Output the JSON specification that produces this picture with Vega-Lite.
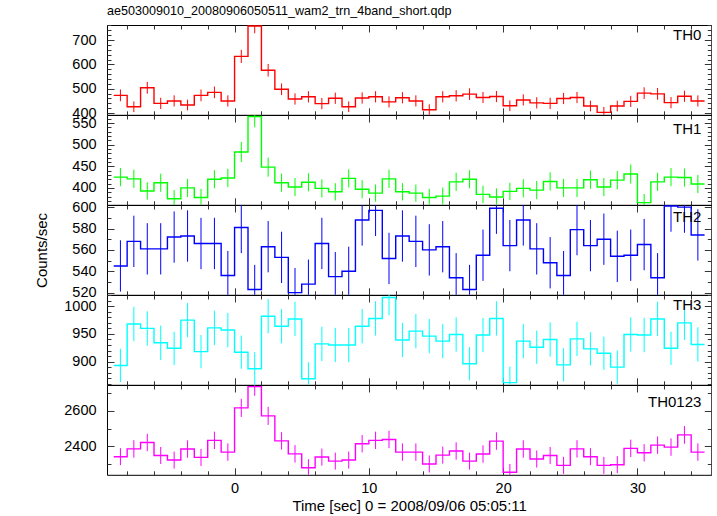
{
"$schema": "https://vega.github.io/schema/vega-lite/v6.json",
"padding": {"left": 34, "top": 5, "right": 0, "bottom": 0},
"title": {"text": "ae503009010_20080906050511_wam2_trn_4band_short.qdp", "anchor": "start", "frame": "group", "font": "Liberation Sans", "fontSize": 12.6, "fontWeight": "normal", "color": "black", "offset": -1},
"spacing": 0,
"bounds": "flush",
"config": {
  "view": {"stroke": "black", "strokeWidth": 1},
  "axis": {"grid": false, "domain": false, "labelFont": "Liberation Sans", "labelFontSize": 14.5, "labelColor": "black", "titleFont": "Liberation Sans", "titleFontSize": 15, "titleFontWeight": "normal", "titleColor": "black", "tickColor": "#333333", "tickWidth": 1, "labelOverlap": false, "labelBound": false, "labelFlush": false, "format": "d"}
},
"datasets": {
"th0": [
{"t0":-9,"t1":-8,"tc":-8.5,"v":473,"lo":449,"hi":497},
{"t0":-8,"t1":-7,"tc":-7.5,"v":426,"lo":404,"hi":448},
{"t0":-7,"t1":-6,"tc":-6.5,"v":504,"lo":480,"hi":528},
{"t0":-6,"t1":-5,"tc":-5.5,"v":440,"lo":417,"hi":463},
{"t0":-5,"t1":-4,"tc":-4.5,"v":450,"lo":427,"hi":473},
{"t0":-4,"t1":-3,"tc":-3.5,"v":433,"lo":411,"hi":455},
{"t0":-3,"t1":-2,"tc":-2.5,"v":473,"lo":449,"hi":497},
{"t0":-2,"t1":-1,"tc":-1.5,"v":485,"lo":461,"hi":509},
{"t0":-1,"t1":0,"tc":-0.5,"v":450,"lo":427,"hi":473},
{"t0":0,"t1":1,"tc":0.5,"v":633,"lo":606,"hi":660},
{"t0":1,"t1":2,"tc":1.5,"v":758,"lo":728,"hi":788},
{"t0":2,"t1":3,"tc":2.5,"v":576,"lo":550,"hi":602},
{"t0":3,"t1":4,"tc":3.5,"v":498,"lo":474,"hi":522},
{"t0":4,"t1":5,"tc":4.5,"v":458,"lo":435,"hi":481},
{"t0":5,"t1":6,"tc":5.5,"v":467,"lo":444,"hi":490},
{"t0":6,"t1":7,"tc":6.5,"v":439,"lo":416,"hi":462},
{"t0":7,"t1":8,"tc":7.5,"v":461,"lo":438,"hi":484},
{"t0":8,"t1":9,"tc":8.5,"v":426,"lo":404,"hi":448},
{"t0":9,"t1":10,"tc":9.5,"v":462,"lo":439,"hi":485},
{"t0":10,"t1":11,"tc":10.5,"v":467,"lo":444,"hi":490},
{"t0":11,"t1":12,"tc":11.5,"v":446,"lo":423,"hi":469},
{"t0":12,"t1":13,"tc":12.5,"v":463,"lo":440,"hi":486},
{"t0":13,"t1":14,"tc":13.5,"v":450,"lo":427,"hi":473},
{"t0":14,"t1":15,"tc":14.5,"v":414,"lo":392,"hi":436},
{"t0":15,"t1":16,"tc":15.5,"v":467,"lo":444,"hi":490},
{"t0":16,"t1":17,"tc":16.5,"v":471,"lo":448,"hi":494},
{"t0":17,"t1":18,"tc":17.5,"v":478,"lo":454,"hi":502},
{"t0":18,"t1":19,"tc":18.5,"v":464,"lo":441,"hi":487},
{"t0":19,"t1":20,"tc":19.5,"v":468,"lo":445,"hi":491},
{"t0":20,"t1":21,"tc":20.5,"v":430,"lo":408,"hi":452},
{"t0":21,"t1":22,"tc":21.5,"v":454,"lo":431,"hi":477},
{"t0":22,"t1":23,"tc":22.5,"v":442,"lo":419,"hi":465},
{"t0":23,"t1":24,"tc":23.5,"v":440,"lo":417,"hi":463},
{"t0":24,"t1":25,"tc":24.5,"v":460,"lo":437,"hi":483},
{"t0":25,"t1":26,"tc":25.5,"v":464,"lo":441,"hi":487},
{"t0":26,"t1":27,"tc":26.5,"v":429,"lo":407,"hi":451},
{"t0":27,"t1":28,"tc":27.5,"v":403,"lo":381,"hi":425},
{"t0":28,"t1":29,"tc":28.5,"v":429,"lo":407,"hi":451},
{"t0":29,"t1":30,"tc":29.5,"v":448,"lo":425,"hi":471},
{"t0":30,"t1":31,"tc":30.5,"v":482,"lo":458,"hi":506},
{"t0":31,"t1":32,"tc":31.5,"v":479,"lo":455,"hi":503},
{"t0":32,"t1":33,"tc":32.5,"v":443,"lo":420,"hi":466},
{"t0":33,"t1":34,"tc":33.5,"v":469,"lo":446,"hi":492},
{"t0":34,"t1":35,"tc":34.5,"v":450,"lo":427,"hi":473}
],
"th1": [
{"t0":-9,"t1":-8,"tc":-8.5,"v":425,"lo":404,"hi":446},
{"t0":-8,"t1":-7,"tc":-7.5,"v":421,"lo":400,"hi":442},
{"t0":-7,"t1":-6,"tc":-6.5,"v":393,"lo":373,"hi":413},
{"t0":-6,"t1":-5,"tc":-5.5,"v":412,"lo":391,"hi":433},
{"t0":-5,"t1":-4,"tc":-4.5,"v":375,"lo":355,"hi":395},
{"t0":-4,"t1":-3,"tc":-3.5,"v":400,"lo":379,"hi":421},
{"t0":-3,"t1":-2,"tc":-2.5,"v":378,"lo":358,"hi":398},
{"t0":-2,"t1":-1,"tc":-1.5,"v":420,"lo":399,"hi":441},
{"t0":-1,"t1":0,"tc":-0.5,"v":423,"lo":402,"hi":444},
{"t0":0,"t1":1,"tc":0.5,"v":483,"lo":460,"hi":506},
{"t0":1,"t1":2,"tc":1.5,"v":565,"lo":540,"hi":590},
{"t0":2,"t1":3,"tc":2.5,"v":448,"lo":426,"hi":470},
{"t0":3,"t1":4,"tc":3.5,"v":412,"lo":391,"hi":433},
{"t0":4,"t1":5,"tc":4.5,"v":402,"lo":381,"hi":423},
{"t0":5,"t1":6,"tc":5.5,"v":413,"lo":392,"hi":434},
{"t0":6,"t1":7,"tc":6.5,"v":399,"lo":378,"hi":420},
{"t0":7,"t1":8,"tc":7.5,"v":391,"lo":371,"hi":411},
{"t0":8,"t1":9,"tc":8.5,"v":422,"lo":401,"hi":443},
{"t0":9,"t1":10,"tc":9.5,"v":397,"lo":376,"hi":418},
{"t0":10,"t1":11,"tc":10.5,"v":388,"lo":368,"hi":408},
{"t0":11,"t1":12,"tc":11.5,"v":421,"lo":400,"hi":442},
{"t0":12,"t1":13,"tc":12.5,"v":391,"lo":371,"hi":411},
{"t0":13,"t1":14,"tc":13.5,"v":388,"lo":368,"hi":408},
{"t0":14,"t1":15,"tc":14.5,"v":378,"lo":358,"hi":398},
{"t0":15,"t1":16,"tc":15.5,"v":381,"lo":361,"hi":401},
{"t0":16,"t1":17,"tc":16.5,"v":414,"lo":393,"hi":435},
{"t0":17,"t1":18,"tc":17.5,"v":420,"lo":399,"hi":441},
{"t0":18,"t1":19,"tc":18.5,"v":385,"lo":365,"hi":405},
{"t0":19,"t1":20,"tc":19.5,"v":379,"lo":359,"hi":399},
{"t0":20,"t1":21,"tc":20.5,"v":392,"lo":372,"hi":412},
{"t0":21,"t1":22,"tc":21.5,"v":399,"lo":378,"hi":420},
{"t0":22,"t1":23,"tc":22.5,"v":395,"lo":374,"hi":416},
{"t0":23,"t1":24,"tc":23.5,"v":415,"lo":394,"hi":436},
{"t0":24,"t1":25,"tc":24.5,"v":400,"lo":379,"hi":421},
{"t0":25,"t1":26,"tc":25.5,"v":400,"lo":379,"hi":421},
{"t0":26,"t1":27,"tc":26.5,"v":419,"lo":398,"hi":440},
{"t0":27,"t1":28,"tc":27.5,"v":402,"lo":381,"hi":423},
{"t0":28,"t1":29,"tc":28.5,"v":418,"lo":397,"hi":439},
{"t0":29,"t1":30,"tc":29.5,"v":432,"lo":410,"hi":454},
{"t0":30,"t1":31,"tc":30.5,"v":366,"lo":346,"hi":386},
{"t0":31,"t1":32,"tc":31.5,"v":414,"lo":393,"hi":435},
{"t0":32,"t1":33,"tc":32.5,"v":425,"lo":404,"hi":446},
{"t0":33,"t1":34,"tc":33.5,"v":424,"lo":403,"hi":445},
{"t0":34,"t1":35,"tc":34.5,"v":409,"lo":388,"hi":430}
],
"th2": [
{"t0":-9,"t1":-8,"tc":-8.5,"v":545,"lo":521,"hi":569},
{"t0":-8,"t1":-7,"tc":-7.5,"v":568,"lo":544,"hi":592},
{"t0":-7,"t1":-6,"tc":-6.5,"v":561,"lo":537,"hi":585},
{"t0":-6,"t1":-5,"tc":-5.5,"v":561,"lo":537,"hi":585},
{"t0":-5,"t1":-4,"tc":-4.5,"v":572,"lo":548,"hi":596},
{"t0":-4,"t1":-3,"tc":-3.5,"v":573,"lo":549,"hi":597},
{"t0":-3,"t1":-2,"tc":-2.5,"v":566,"lo":542,"hi":590},
{"t0":-2,"t1":-1,"tc":-1.5,"v":566,"lo":542,"hi":590},
{"t0":-1,"t1":0,"tc":-0.5,"v":536,"lo":513,"hi":559},
{"t0":0,"t1":1,"tc":0.5,"v":581,"lo":557,"hi":605},
{"t0":1,"t1":2,"tc":1.5,"v":523,"lo":500,"hi":546},
{"t0":2,"t1":3,"tc":2.5,"v":563,"lo":539,"hi":587},
{"t0":3,"t1":4,"tc":3.5,"v":553,"lo":529,"hi":577},
{"t0":4,"t1":5,"tc":4.5,"v":520,"lo":497,"hi":543},
{"t0":5,"t1":6,"tc":5.5,"v":528,"lo":505,"hi":551},
{"t0":6,"t1":7,"tc":6.5,"v":566,"lo":542,"hi":590},
{"t0":7,"t1":8,"tc":7.5,"v":535,"lo":512,"hi":558},
{"t0":8,"t1":9,"tc":8.5,"v":540,"lo":517,"hi":563},
{"t0":9,"t1":10,"tc":9.5,"v":588,"lo":564,"hi":612},
{"t0":10,"t1":11,"tc":10.5,"v":597,"lo":573,"hi":621},
{"t0":11,"t1":12,"tc":11.5,"v":552,"lo":528,"hi":576},
{"t0":12,"t1":13,"tc":12.5,"v":573,"lo":549,"hi":597},
{"t0":13,"t1":14,"tc":13.5,"v":568,"lo":544,"hi":592},
{"t0":14,"t1":15,"tc":14.5,"v":560,"lo":536,"hi":584},
{"t0":15,"t1":16,"tc":15.5,"v":563,"lo":539,"hi":587},
{"t0":16,"t1":17,"tc":16.5,"v":534,"lo":511,"hi":557},
{"t0":17,"t1":18,"tc":17.5,"v":523,"lo":500,"hi":546},
{"t0":18,"t1":19,"tc":18.5,"v":555,"lo":531,"hi":579},
{"t0":19,"t1":20,"tc":19.5,"v":599,"lo":575,"hi":623},
{"t0":20,"t1":21,"tc":20.5,"v":564,"lo":540,"hi":588},
{"t0":21,"t1":22,"tc":21.5,"v":588,"lo":564,"hi":612},
{"t0":22,"t1":23,"tc":22.5,"v":561,"lo":537,"hi":585},
{"t0":23,"t1":24,"tc":23.5,"v":548,"lo":524,"hi":572},
{"t0":24,"t1":25,"tc":24.5,"v":536,"lo":513,"hi":559},
{"t0":25,"t1":26,"tc":25.5,"v":579,"lo":555,"hi":603},
{"t0":26,"t1":27,"tc":26.5,"v":564,"lo":540,"hi":588},
{"t0":27,"t1":28,"tc":27.5,"v":570,"lo":546,"hi":594},
{"t0":28,"t1":29,"tc":28.5,"v":554,"lo":530,"hi":578},
{"t0":29,"t1":30,"tc":29.5,"v":555,"lo":531,"hi":579},
{"t0":30,"t1":31,"tc":30.5,"v":565,"lo":541,"hi":589},
{"t0":31,"t1":32,"tc":31.5,"v":534,"lo":511,"hi":557},
{"t0":32,"t1":33,"tc":32.5,"v":601,"lo":577,"hi":625},
{"t0":33,"t1":34,"tc":33.5,"v":600,"lo":576,"hi":624},
{"t0":34,"t1":35,"tc":34.5,"v":574,"lo":550,"hi":598}
],
"th3": [
{"t0":-9,"t1":-8,"tc":-8.5,"v":893,"lo":863,"hi":923},
{"t0":-8,"t1":-7,"tc":-7.5,"v":968,"lo":937,"hi":999},
{"t0":-7,"t1":-6,"tc":-6.5,"v":960,"lo":929,"hi":991},
{"t0":-6,"t1":-5,"tc":-5.5,"v":934,"lo":903,"hi":965},
{"t0":-5,"t1":-4,"tc":-4.5,"v":924,"lo":894,"hi":954},
{"t0":-4,"t1":-3,"tc":-3.5,"v":975,"lo":944,"hi":1006},
{"t0":-3,"t1":-2,"tc":-2.5,"v":918,"lo":888,"hi":948},
{"t0":-2,"t1":-1,"tc":-1.5,"v":961,"lo":930,"hi":992},
{"t0":-1,"t1":0,"tc":-0.5,"v":957,"lo":926,"hi":988},
{"t0":0,"t1":1,"tc":0.5,"v":917,"lo":887,"hi":947},
{"t0":1,"t1":2,"tc":1.5,"v":887,"lo":857,"hi":917},
{"t0":2,"t1":3,"tc":2.5,"v":982,"lo":951,"hi":1013},
{"t0":3,"t1":4,"tc":3.5,"v":964,"lo":933,"hi":995},
{"t0":4,"t1":5,"tc":4.5,"v":977,"lo":946,"hi":1008},
{"t0":5,"t1":6,"tc":5.5,"v":869,"lo":839,"hi":899},
{"t0":6,"t1":7,"tc":6.5,"v":932,"lo":901,"hi":963},
{"t0":7,"t1":8,"tc":7.5,"v":930,"lo":899,"hi":961},
{"t0":8,"t1":9,"tc":8.5,"v":930,"lo":899,"hi":961},
{"t0":9,"t1":10,"tc":9.5,"v":964,"lo":933,"hi":995},
{"t0":10,"t1":11,"tc":10.5,"v":978,"lo":947,"hi":1009},
{"t0":11,"t1":12,"tc":11.5,"v":1016,"lo":984,"hi":1048},
{"t0":12,"t1":13,"tc":12.5,"v":939,"lo":908,"hi":970},
{"t0":13,"t1":14,"tc":13.5,"v":955,"lo":924,"hi":986},
{"t0":14,"t1":15,"tc":14.5,"v":946,"lo":915,"hi":977},
{"t0":15,"t1":16,"tc":15.5,"v":937,"lo":906,"hi":968},
{"t0":16,"t1":17,"tc":16.5,"v":949,"lo":918,"hi":980},
{"t0":17,"t1":18,"tc":17.5,"v":896,"lo":866,"hi":926},
{"t0":18,"t1":19,"tc":18.5,"v":948,"lo":917,"hi":979},
{"t0":19,"t1":20,"tc":19.5,"v":978,"lo":947,"hi":1009},
{"t0":20,"t1":21,"tc":20.5,"v":862,"lo":833,"hi":891},
{"t0":21,"t1":22,"tc":21.5,"v":937,"lo":906,"hi":968},
{"t0":22,"t1":23,"tc":22.5,"v":926,"lo":896,"hi":956},
{"t0":23,"t1":24,"tc":23.5,"v":940,"lo":909,"hi":971},
{"t0":24,"t1":25,"tc":24.5,"v":894,"lo":864,"hi":924},
{"t0":25,"t1":26,"tc":25.5,"v":941,"lo":910,"hi":972},
{"t0":26,"t1":27,"tc":26.5,"v":923,"lo":893,"hi":953},
{"t0":27,"t1":28,"tc":27.5,"v":915,"lo":885,"hi":945},
{"t0":28,"t1":29,"tc":28.5,"v":890,"lo":860,"hi":920},
{"t0":29,"t1":30,"tc":29.5,"v":949,"lo":918,"hi":980},
{"t0":30,"t1":31,"tc":30.5,"v":948,"lo":917,"hi":979},
{"t0":31,"t1":32,"tc":31.5,"v":977,"lo":946,"hi":1008},
{"t0":32,"t1":33,"tc":32.5,"v":924,"lo":894,"hi":954},
{"t0":33,"t1":34,"tc":33.5,"v":970,"lo":939,"hi":1001},
{"t0":34,"t1":35,"tc":34.5,"v":931,"lo":900,"hi":962}
],
"th0123": [
{"t0":-9,"t1":-8,"tc":-8.5,"v":2342,"lo":2294,"hi":2390},
{"t0":-8,"t1":-7,"tc":-7.5,"v":2386,"lo":2337,"hi":2435},
{"t0":-7,"t1":-6,"tc":-6.5,"v":2422,"lo":2373,"hi":2471},
{"t0":-6,"t1":-5,"tc":-5.5,"v":2349,"lo":2301,"hi":2397},
{"t0":-5,"t1":-4,"tc":-4.5,"v":2323,"lo":2275,"hi":2371},
{"t0":-4,"t1":-3,"tc":-3.5,"v":2385,"lo":2336,"hi":2434},
{"t0":-3,"t1":-2,"tc":-2.5,"v":2338,"lo":2290,"hi":2386},
{"t0":-2,"t1":-1,"tc":-1.5,"v":2434,"lo":2385,"hi":2483},
{"t0":-1,"t1":0,"tc":-0.5,"v":2368,"lo":2319,"hi":2417},
{"t0":0,"t1":1,"tc":0.5,"v":2617,"lo":2566,"hi":2668},
{"t0":1,"t1":2,"tc":1.5,"v":2737,"lo":2685,"hi":2789},
{"t0":2,"t1":3,"tc":2.5,"v":2572,"lo":2521,"hi":2623},
{"t0":3,"t1":4,"tc":3.5,"v":2431,"lo":2382,"hi":2480},
{"t0":4,"t1":5,"tc":4.5,"v":2358,"lo":2309,"hi":2407},
{"t0":5,"t1":6,"tc":5.5,"v":2280,"lo":2232,"hi":2328},
{"t0":6,"t1":7,"tc":6.5,"v":2340,"lo":2292,"hi":2388},
{"t0":7,"t1":8,"tc":7.5,"v":2317,"lo":2269,"hi":2365},
{"t0":8,"t1":9,"tc":8.5,"v":2323,"lo":2275,"hi":2371},
{"t0":9,"t1":10,"tc":9.5,"v":2415,"lo":2366,"hi":2464},
{"t0":10,"t1":11,"tc":10.5,"v":2434,"lo":2385,"hi":2483},
{"t0":11,"t1":12,"tc":11.5,"v":2439,"lo":2390,"hi":2488},
{"t0":12,"t1":13,"tc":12.5,"v":2368,"lo":2319,"hi":2417},
{"t0":13,"t1":14,"tc":13.5,"v":2368,"lo":2319,"hi":2417},
{"t0":14,"t1":15,"tc":14.5,"v":2301,"lo":2253,"hi":2349},
{"t0":15,"t1":16,"tc":15.5,"v":2351,"lo":2303,"hi":2399},
{"t0":16,"t1":17,"tc":16.5,"v":2374,"lo":2325,"hi":2423},
{"t0":17,"t1":18,"tc":17.5,"v":2317,"lo":2269,"hi":2365},
{"t0":18,"t1":19,"tc":18.5,"v":2357,"lo":2308,"hi":2406},
{"t0":19,"t1":20,"tc":19.5,"v":2430,"lo":2381,"hi":2479},
{"t0":20,"t1":21,"tc":20.5,"v":2254,"lo":2207,"hi":2301},
{"t0":21,"t1":22,"tc":21.5,"v":2385,"lo":2336,"hi":2434},
{"t0":22,"t1":23,"tc":22.5,"v":2329,"lo":2281,"hi":2377},
{"t0":23,"t1":24,"tc":23.5,"v":2349,"lo":2301,"hi":2397},
{"t0":24,"t1":25,"tc":24.5,"v":2293,"lo":2245,"hi":2341},
{"t0":25,"t1":26,"tc":25.5,"v":2386,"lo":2337,"hi":2435},
{"t0":26,"t1":27,"tc":26.5,"v":2342,"lo":2294,"hi":2390},
{"t0":27,"t1":28,"tc":27.5,"v":2293,"lo":2245,"hi":2341},
{"t0":28,"t1":29,"tc":28.5,"v":2297,"lo":2249,"hi":2345},
{"t0":29,"t1":30,"tc":29.5,"v":2389,"lo":2340,"hi":2438},
{"t0":30,"t1":31,"tc":30.5,"v":2364,"lo":2315,"hi":2413},
{"t0":31,"t1":32,"tc":31.5,"v":2407,"lo":2358,"hi":2456},
{"t0":32,"t1":33,"tc":32.5,"v":2396,"lo":2347,"hi":2445},
{"t0":33,"t1":34,"tc":33.5,"v":2465,"lo":2415,"hi":2515},
{"t0":34,"t1":35,"tc":34.5,"v":2368,"lo":2319,"hi":2417}
]
},
"vconcat": [
{
 "width": 604.3, "height": 89.8,
 "data": {"name": "th0"},
 "title": {"text": "TH0", "anchor": "end", "frame": "group", "offset": -26, "dx": -10, "font": "Liberation Sans", "fontSize": 15, "fontWeight": "normal", "color": "black"},
 "resolve": {"axis": {"x": "independent", "y": "independent"}},
 "layer": [
  {"transform": [{"fold": ["t0", "t1"], "as": ["k", "x"]}],
   "mark": {"type": "line", "color": "#ff0000", "strokeWidth": 1.4, "clip": true},
   "encoding": {
    "x": {"field": "x", "type": "quantitative", "scale": {"domain": [-9.5, 35.5], "nice": false, "zero": false},
          "axis": {"orient": "bottom", "values": [-8,-6,-4,-2,0,2,4,6,8,10,12,14,16,18,20,22,24,26,28,30,32,34], "tickSize": {"condition": {"test": "datum.value % 10 === 0", "value": -7}, "value": -4}, "labels": false, "title": null}},
    "y": {"field": "v", "type": "quantitative", "scale": {"domain": [393, 762], "nice": false, "zero": false},
          "axis": {"orient": "left", "values": [400,420,440,460,480,500,520,540,560,580,600,620,640,660,680,700,720,740,760], "tickSize": {"condition": {"test": "datum.value % 100 === 0", "value": -7}, "value": -4}, "labelExpr": "datum.value % 100 === 0 ? datum.label : ''", "labelPadding": 18, "title": null}},
    "order": [{"field": "x", "type": "quantitative"}, {"field": "k", "type": "nominal", "sort": "descending"}]
   }},
  {"mark": {"type": "rule", "color": "#ff0000", "strokeWidth": 1, "clip": true},
   "encoding": {
    "x": {"field": "tc", "type": "quantitative", "axis": {"orient": "top", "values": [-8,-6,-4,-2,0,2,4,6,8,10,12,14,16,18,20,22,24,26,28,30,32,34], "tickSize": {"condition": {"test": "datum.value % 10 === 0", "value": -7}, "value": -4}, "labels": false, "title": null}},
    "y": {"field": "lo", "type": "quantitative", "axis": {"orient": "right", "values": [400,420,440,460,480,500,520,540,560,580,600,620,640,660,680,700,720,740,760], "tickSize": {"condition": {"test": "datum.value % 100 === 0", "value": -7}, "value": -4}, "labels": false, "title": null}},
    "y2": {"field": "hi"}
   }}
 ]
},
{
 "width": 604.3, "height": 89.8,
 "data": {"name": "th1"},
 "title": {"text": "TH1", "anchor": "end", "frame": "group", "offset": -26, "dx": -10, "font": "Liberation Sans", "fontSize": 15, "fontWeight": "normal", "color": "black"},
 "resolve": {"axis": {"x": "independent", "y": "independent"}},
 "layer": [
  {"transform": [{"fold": ["t0", "t1"], "as": ["k", "x"]}],
   "mark": {"type": "line", "color": "#00ff00", "strokeWidth": 1.4, "clip": true},
   "encoding": {
    "x": {"field": "x", "type": "quantitative", "scale": {"domain": [-9.5, 35.5], "nice": false, "zero": false},
          "axis": {"orient": "bottom", "values": [-8,-6,-4,-2,0,2,4,6,8,10,12,14,16,18,20,22,24,26,28,30,32,34], "tickSize": {"condition": {"test": "datum.value % 10 === 0", "value": -7}, "value": -4}, "labels": false, "title": null}},
    "y": {"field": "v", "type": "quantitative", "scale": {"domain": [361, 568.5], "nice": false, "zero": false},
          "axis": {"orient": "left", "values": [370,380,390,400,410,420,430,440,450,460,470,480,490,500,510,520,530,540,550,560], "tickSize": {"condition": {"test": "datum.value % 50 === 0", "value": -7}, "value": -4}, "labelExpr": "datum.value % 50 === 0 ? datum.label : ''", "labelPadding": 18, "title": null}},
    "order": [{"field": "x", "type": "quantitative"}, {"field": "k", "type": "nominal", "sort": "descending"}]
   }},
  {"mark": {"type": "rule", "color": "#00ff00", "strokeWidth": 1, "clip": true},
   "encoding": {
    "x": {"field": "tc", "type": "quantitative", "axis": {"orient": "top", "values": [-8,-6,-4,-2,0,2,4,6,8,10,12,14,16,18,20,22,24,26,28,30,32,34], "tickSize": {"condition": {"test": "datum.value % 10 === 0", "value": -7}, "value": -4}, "labels": false, "title": null}},
    "y": {"field": "lo", "type": "quantitative", "axis": {"orient": "right", "values": [370,380,390,400,410,420,430,440,450,460,470,480,490,500,510,520,530,540,550,560], "tickSize": {"condition": {"test": "datum.value % 50 === 0", "value": -7}, "value": -4}, "labels": false, "title": null}},
    "y2": {"field": "hi"}
   }}
 ]
},
{
 "width": 604.3, "height": 89.8,
 "data": {"name": "th2"},
 "title": {"text": "TH2", "anchor": "end", "frame": "group", "offset": -26, "dx": -10, "font": "Liberation Sans", "fontSize": 15, "fontWeight": "normal", "color": "black"},
 "resolve": {"axis": {"x": "independent", "y": "independent"}},
 "layer": [
  {"transform": [{"fold": ["t0", "t1"], "as": ["k", "x"]}],
   "mark": {"type": "line", "color": "#0000ff", "strokeWidth": 1.4, "clip": true},
   "encoding": {
    "x": {"field": "x", "type": "quantitative", "scale": {"domain": [-9.5, 35.5], "nice": false, "zero": false},
          "axis": {"orient": "bottom", "values": [-8,-6,-4,-2,0,2,4,6,8,10,12,14,16,18,20,22,24,26,28,30,32,34], "tickSize": {"condition": {"test": "datum.value % 10 === 0", "value": -7}, "value": -4}, "labels": false, "title": null}},
    "y": {"field": "v", "type": "quantitative", "scale": {"domain": [518, 602], "nice": false, "zero": false},
          "axis": {"orient": "left", "values": [520,530,540,550,560,570,580,590,600], "tickSize": {"condition": {"test": "datum.value % 20 === 0", "value": -7}, "value": -4}, "labelExpr": "datum.value % 20 === 0 ? datum.label : ''", "labelPadding": 18, "title": "Counts/sec", "titlePadding": 22}},
    "order": [{"field": "x", "type": "quantitative"}, {"field": "k", "type": "nominal", "sort": "descending"}]
   }},
  {"mark": {"type": "rule", "color": "#0000ff", "strokeWidth": 1, "clip": true},
   "encoding": {
    "x": {"field": "tc", "type": "quantitative", "axis": {"orient": "top", "values": [-8,-6,-4,-2,0,2,4,6,8,10,12,14,16,18,20,22,24,26,28,30,32,34], "tickSize": {"condition": {"test": "datum.value % 10 === 0", "value": -7}, "value": -4}, "labels": false, "title": null}},
    "y": {"field": "lo", "type": "quantitative", "axis": {"orient": "right", "values": [520,530,540,550,560,570,580,590,600], "tickSize": {"condition": {"test": "datum.value % 20 === 0", "value": -7}, "value": -4}, "labels": false, "title": null}},
    "y2": {"field": "hi"}
   }}
 ]
},
{
 "width": 604.3, "height": 89.8,
 "data": {"name": "th3"},
 "title": {"text": "TH3", "anchor": "end", "frame": "group", "offset": -26, "dx": -10, "font": "Liberation Sans", "fontSize": 15, "fontWeight": "normal", "color": "black"},
 "resolve": {"axis": {"x": "independent", "y": "independent"}},
 "layer": [
  {"transform": [{"fold": ["t0", "t1"], "as": ["k", "x"]}],
   "mark": {"type": "line", "color": "#00ffff", "strokeWidth": 1.4, "clip": true},
   "encoding": {
    "x": {"field": "x", "type": "quantitative", "scale": {"domain": [-9.5, 35.5], "nice": false, "zero": false},
          "axis": {"orient": "bottom", "values": [-8,-6,-4,-2,0,2,4,6,8,10,12,14,16,18,20,22,24,26,28,30,32,34], "tickSize": {"condition": {"test": "datum.value % 10 === 0", "value": -7}, "value": -4}, "labels": false, "title": null}},
    "y": {"field": "v", "type": "quantitative", "scale": {"domain": [858, 1020.4], "nice": false, "zero": false},
          "axis": {"orient": "left", "values": [860,870,880,890,900,910,920,930,940,950,960,970,980,990,1000,1010,1020], "tickSize": {"condition": {"test": "datum.value % 50 === 0", "value": -7}, "value": -4}, "labelExpr": "datum.value % 50 === 0 ? datum.label : ''", "labelPadding": 18, "title": null}},
    "order": [{"field": "x", "type": "quantitative"}, {"field": "k", "type": "nominal", "sort": "descending"}]
   }},
  {"mark": {"type": "rule", "color": "#00ffff", "strokeWidth": 1, "clip": true},
   "encoding": {
    "x": {"field": "tc", "type": "quantitative", "axis": {"orient": "top", "values": [-8,-6,-4,-2,0,2,4,6,8,10,12,14,16,18,20,22,24,26,28,30,32,34], "tickSize": {"condition": {"test": "datum.value % 10 === 0", "value": -7}, "value": -4}, "labels": false, "title": null}},
    "y": {"field": "lo", "type": "quantitative", "axis": {"orient": "right", "values": [860,870,880,890,900,910,920,930,940,950,960,970,980,990,1000,1010,1020], "tickSize": {"condition": {"test": "datum.value % 50 === 0", "value": -7}, "value": -4}, "labels": false, "title": null}},
    "y2": {"field": "hi"}
   }}
 ]
},
{
 "width": 604.3, "height": 89.8,
 "data": {"name": "th0123"},
 "title": {"text": "TH0123", "anchor": "end", "frame": "group", "offset": -26, "dx": -10, "font": "Liberation Sans", "fontSize": 15, "fontWeight": "normal", "color": "black"},
 "resolve": {"axis": {"x": "independent", "y": "independent"}},
 "layer": [
  {"transform": [{"fold": ["t0", "t1"], "as": ["k", "x"]}],
   "mark": {"type": "line", "color": "#ff00ff", "strokeWidth": 1.4, "clip": true},
   "encoding": {
    "x": {"field": "x", "type": "quantitative", "scale": {"domain": [-9.5, 35.5], "nice": false, "zero": false},
          "axis": {"orient": "bottom", "values": [-8,-6,-4,-2,0,2,4,6,8,10,12,14,16,18,20,22,24,26,28,30,32,34], "tickSize": {"condition": {"test": "datum.value % 10 === 0", "value": -7}, "value": -4}, "labelExpr": "datum.value % 10 === 0 ? datum.label : ''", "labelPadding": 14, "title": "Time [sec] 0 = 2008/09/06 05:05:11", "titlePadding": 0}},
    "y": {"field": "v", "type": "quantitative", "scale": {"domain": [2240, 2746], "nice": false, "zero": false},
          "axis": {"orient": "left", "values": [2300,2400,2500,2600,2700], "tickSize": {"condition": {"test": "datum.value % 200 === 0", "value": -7}, "value": -4}, "labelExpr": "datum.value % 200 === 0 ? datum.label : ''", "labelPadding": 18, "title": null}},
    "order": [{"field": "x", "type": "quantitative"}, {"field": "k", "type": "nominal", "sort": "descending"}]
   }},
  {"mark": {"type": "rule", "color": "#ff00ff", "strokeWidth": 1, "clip": true},
   "encoding": {
    "x": {"field": "tc", "type": "quantitative", "axis": {"orient": "top", "values": [-8,-6,-4,-2,0,2,4,6,8,10,12,14,16,18,20,22,24,26,28,30,32,34], "tickSize": {"condition": {"test": "datum.value % 10 === 0", "value": -7}, "value": -4}, "labels": false, "title": null}},
    "y": {"field": "lo", "type": "quantitative", "axis": {"orient": "right", "values": [2300,2400,2500,2600,2700], "tickSize": {"condition": {"test": "datum.value % 200 === 0", "value": -7}, "value": -4}, "labels": false, "title": null}},
    "y2": {"field": "hi"}
   }}
 ]
}
]
}
